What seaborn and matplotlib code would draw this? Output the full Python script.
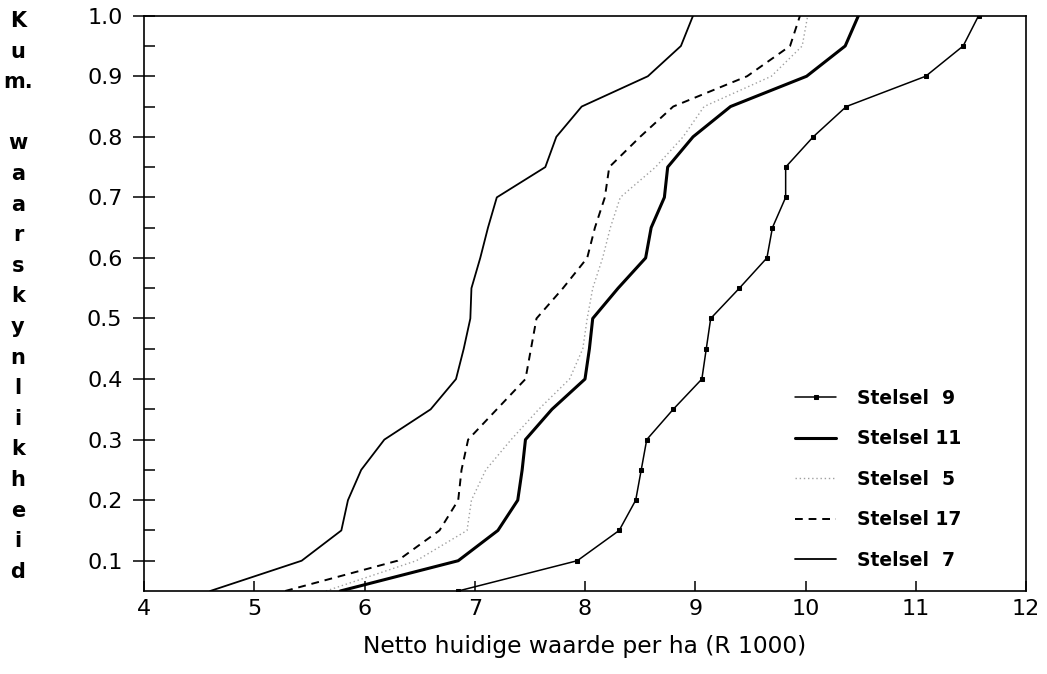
import matplotlib
matplotlib.use("Agg")
import matplotlib.pyplot as plt
import seaborn as sns
import pandas as pd
from matplotlib.ticker import FixedLocator

# ---------------- data ----------------
probs = [0.05, 0.10, 0.15, 0.20, 0.25, 0.30, 0.35, 0.40, 0.45, 0.50,
         0.55, 0.60, 0.65, 0.70, 0.75, 0.80, 0.85, 0.90, 0.95, 1.00]

stelsel_9 = [6.85, 7.93, 8.31, 8.46, 8.51, 8.56, 8.80, 9.06, 9.10, 9.14,
             9.40, 9.65, 9.70, 9.82, 9.82, 10.07, 10.37, 11.09, 11.43, 11.57]
stelsel_11 = [5.78, 6.85, 7.21, 7.39, 7.43, 7.46, 7.70, 8.00, 8.04, 8.07,
              8.30, 8.55, 8.60, 8.72, 8.75, 8.98, 9.32, 10.01, 10.36, 10.48]
stelsel_5 = [5.65, 6.47, 6.93, 6.97, 7.10, 7.33, 7.58, 7.86, 7.98, 8.02,
             8.07, 8.16, 8.23, 8.32, 8.64, 8.89, 9.08, 9.69, 9.97, 10.02]
stelsel_17 = [5.28, 6.30, 6.68, 6.85, 6.88, 6.94, 7.20, 7.46, 7.51, 7.56,
              7.80, 8.02, 8.09, 8.18, 8.22, 8.50, 8.80, 9.47, 9.86, 9.95]
stelsel_7 = [4.60, 5.43, 5.79, 5.85, 5.97, 6.18, 6.60, 6.83, 6.90, 6.96,
             6.97, 7.05, 7.12, 7.20, 7.64, 7.74, 7.97, 8.57, 8.87, 8.98]

series_labels = ["Stelsel  9", "Stelsel 11", "Stelsel  5", "Stelsel 17", "Stelsel  7"]
series_values = [stelsel_9, stelsel_11, stelsel_5, stelsel_17, stelsel_7]

x_ticks = [4, 5, 6, 7, 8, 9, 10, 11, 12]
y_major = [0.1, 0.2, 0.3, 0.4, 0.5, 0.6, 0.7, 0.8, 0.9, 1.0]
y_minor = [0.15, 0.25, 0.35, 0.45, 0.55, 0.65, 0.75, 0.85, 0.95]
y_ticklabels = ["0.1", "0.2", "0.3", "0.4", "0.5", "0.6", "0.7", "0.8", "0.9", "1.0"]

xlabel = "Netto huidige waarde per ha (R 1000)"
ylabel_lines = ["K", "u", "m.", "", "w", "a", "a", "r", "s", "k", "y", "n",
                "l", "i", "k", "h", "e", "i", "d"]

# ---------------- style ----------------
styles = {
    "Stelsel  9": dict(color="black", lw=1.1, ls="-", marker="s", ms=3.4),
    "Stelsel 11": dict(color="black", lw=2.2, ls="-", marker=None, ms=0),
    "Stelsel  5": dict(color="#a0a0a0", lw=1.0, ls=(0, (1, 2)), marker=None, ms=0),
    "Stelsel 17": dict(color="black", lw=1.4, ls=(0, (4, 3)), marker=None, ms=0),
    "Stelsel  7": dict(color="black", lw=1.3, ls="-", marker=None, ms=0),
}

sns.set_theme(style="white")
plt.rcParams["font.family"] = ["DejaVu Sans"]
plt.rcParams["text.color"] = "black"
plt.rcParams["axes.labelcolor"] = "black"
plt.rcParams["xtick.color"] = "black"
plt.rcParams["ytick.color"] = "black"

W, H = 1047, 674
fig = plt.figure(figsize=(W / 100, H / 100), dpi=100)
fig.patch.set_facecolor("white")
ax = fig.add_axes([144 / W, 1 - 591 / H, (1026 - 144) / W, (591 - 15.7) / H])
ax.set_facecolor("white")

rows = []
for name, vals in zip(series_labels, series_values):
    for p, v in zip(probs, vals):
        rows.append({"serie": name, "x": v, "p": p})
df = pd.DataFrame(rows)

for name in series_labels:
    st = styles[name]
    sub = df[df["serie"] == name]
    sns.lineplot(data=sub, x="x", y="p", sort=False, estimator=None, ax=ax,
                 color=st["color"], linewidth=st["lw"], linestyle=st["ls"],
                 marker=st["marker"], markersize=st["ms"],
                 markeredgecolor="black", markerfacecolor="black",
                 label=name)

ax.set_xlim(4, 12)
ax.set_ylim(0.05, 1.0)

for sp in ax.spines.values():
    sp.set_visible(True)
    sp.set_color("black")
    sp.set_linewidth(1.2)

ax.xaxis.set_major_locator(FixedLocator(x_ticks))
ax.yaxis.set_major_locator(FixedLocator(y_major))
ax.yaxis.set_minor_locator(FixedLocator(y_minor))
ax.set_yticklabels(y_ticklabels)

ax.tick_params(axis="x", which="major", direction="in", length=7, width=1.1,
               labelsize=16, pad=6, colors="black", bottom=True, top=False)
ax.tick_params(axis="y", which="major", direction="inout", length=16, width=1.1,
               labelsize=16, pad=7.5, colors="black", left=True, right=False)
ax.tick_params(axis="y", which="minor", direction="in", length=8, width=1.1,
               left=True, right=False)

ax.set_xlabel(xlabel, fontsize=16.8, labelpad=11, color="black")
ax.set_ylabel("")

for i, ch in enumerate(ylabel_lines):
    if ch:
        fig.text(18 / W, 1 - (21 + i * 30.6) / H, ch, ha="center", va="center",
                 fontsize=15, fontweight="bold", color="black")

leg = ax.legend(loc="upper left", bbox_to_anchor=(795 / W, 1 - 389 / H),
                bbox_transform=fig.transFigure, frameon=False,
                handlelength=2.2, handletextpad=1.1, labelspacing=1.14,
                borderpad=0, borderaxespad=0, labelcolor="black",
                prop={"size": 13.5, "weight": "bold"})

fig.savefig("out.png", dpi=100, facecolor="white")
